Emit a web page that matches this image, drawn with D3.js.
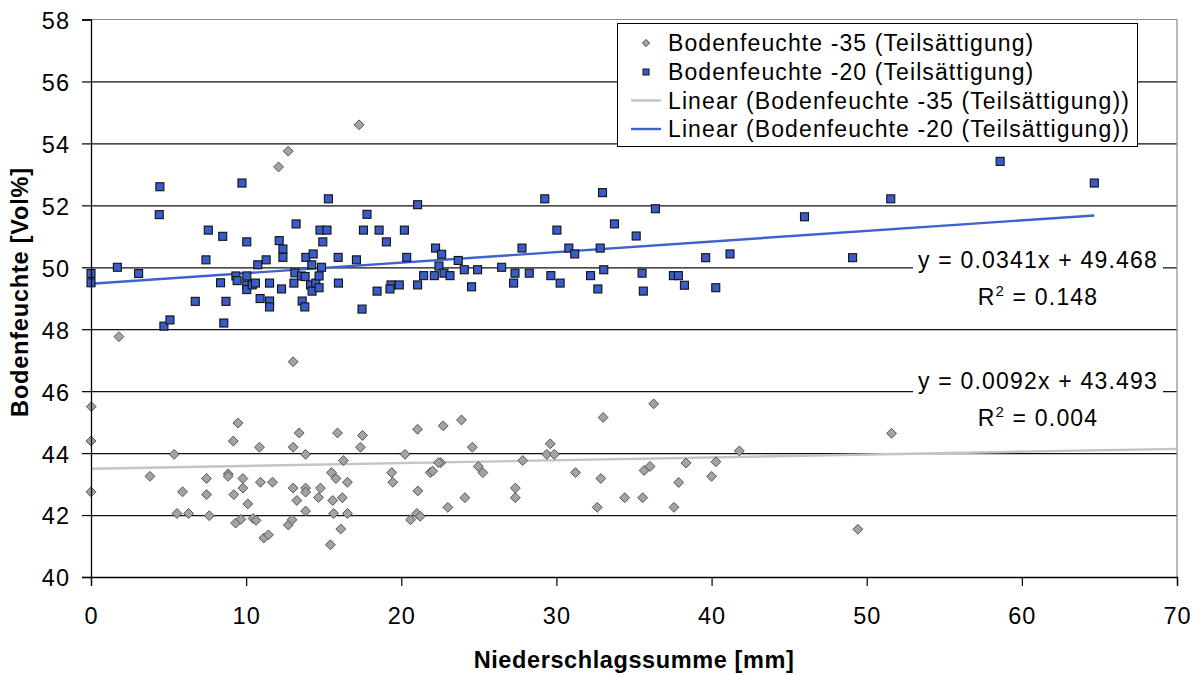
<!DOCTYPE html>
<html>
<head>
<meta charset="utf-8">
<script src="https://cdn.jsdelivr.net/npm/d3@7/dist/d3.min.js"></script>
<style>
  html, body { margin: 0; padding: 0; background: #fff; }
  svg { display: block; font-family: "Liberation Sans", Arial, sans-serif; }
</style>
</head>
<body>
<svg id="chart" width="1199" height="675"></svg>
<script>
// ---------- DATA ----------
const xTicks = [0, 10, 20, 30, 40, 50, 60, 70];
const yTicks = [40, 42, 44, 46, 48, 50, 52, 54, 56, 58];

const seriesNames = [
  "Bodenfeuchte -35 (Teilsättigung)",
  "Bodenfeuchte -20 (Teilsättigung)",
  "Linear (Bodenfeuchte -35 (Teilsättigung))",
  "Linear (Bodenfeuchte -20 (Teilsättigung))"
];

// Bodenfeuchte -20 (squares)
const s20x = [0, 0, 1.7, 3.07, 4.44, 4.4, 4.7, 5.09, 6.72, 7.41, 7.56, 8.35, 8.56, 8.49, 8.7, 9.73, 10.04, 9.34, 9.42, 10.04,
  10.04, 10.04, 10.39, 10.6, 10.75, 10.9, 11.29, 11.51, 11.51, 11.51, 12.13, 12.37, 12.37, 12.28, 13.08, 13.14, 13.22, 13.57, 13.8, 13.61,
  13.78, 13.85, 14.32, 14.23, 14.15, 14.25, 14.49, 14.7, 14.7, 14.86, 14.94, 14.76, 15.21, 15.3, 15.93, 15.95, 17.11, 17.47, 17.56, 17.79,
  18.44, 18.57, 19.04, 19.34, 19.27, 19.87, 20.2, 20.35, 21.05, 21.05, 21.44, 22.13, 22.21, 22.6, 22.43, 22.75, 23.14, 23.67, 24.06, 24.53,
  24.92, 26.47, 27.24, 27.33, 27.78, 28.25, 29.25, 29.64, 30.03, 30.24, 30.8, 31.18, 32.2, 32.97, 36.38, 33.74, 35.14, 32.82, 32.67, 33.05,
  35.52, 35.6, 37.54, 37.86, 38.25, 39.62, 40.27, 41.19, 45.99, 49.09, 51.55, 58.6, 64.67];
const s20y = [49.8, 49.5, 50.0, 49.8, 52.6, 51.7, 48.1, 48.3, 48.9, 50.24, 51.2, 49.5, 48.2, 51.0, 48.9, 52.72, 50.82, 49.72, 49.57, 49.72,
  49.43, 49.28, 49.43, 49.49, 50.08, 48.99, 50.24, 49.49, 48.91, 48.72, 50.86, 50.59, 50.32, 49.3, 49.49, 49.82, 51.4, 49.72, 49.7, 48.91,
  48.72, 50.32, 50.43, 50.08, 49.43, 49.23, 49.49, 49.72, 49.34, 50.0, 50.82, 51.2, 51.2, 52.21, 50.32, 49.49, 50.24, 48.65, 51.2, 51.71,
  49.23, 51.2, 50.82, 49.43, 49.3, 49.43, 51.2, 50.32, 52.02, 49.43, 49.73, 49.73, 50.62, 50.42, 50.04, 49.81, 49.73, 50.22, 49.92, 49.37,
  49.92, 50.0, 49.49, 49.81, 50.62, 49.81, 52.21, 49.73, 51.2, 49.49, 50.62, 50.43, 49.73, 52.41, 51.89, 51.4, 51.01, 50.62, 49.3, 49.92,
  49.81, 49.23, 49.73, 49.73, 49.42, 50.31, 49.34, 50.43, 51.63, 50.31, 52.21, 53.42, 52.72];

// Bodenfeuchte -35 (diamonds)
const s35x = [0.02, 0, 0, 1.8, 3.8, 5.36, 5.9, 5.54, 6.29, 7.45, 7.45, 7.62, 8.84, 8.84, 9.17, 9.47, 9.21, 9.79, 9.79, 10.11,
  9.32, 9.66, 10.45, 10.64, 10.92, 10.86, 11.7, 11.14, 11.44, 12.72, 12.96, 13.03, 13.42, 13.83, 13.03, 13.27, 13.83, 13.83, 13.83, 14.66,
  14.79, 15.5, 15.79, 15.58, 15.64, 15.43, 15.89, 16.1, 17.5, 17.37, 16.27, 16.53, 16.2, 16.53, 19.38, 19.45, 20.24, 21.05, 21.07, 20.6,
  21.0, 21.22, 21.87, 22.02, 22.54, 22.4, 22.7, 23.0, 23.88, 24.1, 24.58, 24.96, 25.26, 27.35, 27.35, 27.83, 29.38, 29.6, 29.86, 31.23,
  33.01, 36.27, 51.6, 41.79, 32.86, 35.65, 36.03, 38.35, 40.28, 37.88, 40.0, 34.4, 35.56, 32.63, 37.58, 49.43, 12.71, 12.09, 17.28, 13.03];
const s35y = [45.5, 44.39, 42.75, 47.76, 43.25, 43.96, 42.75, 42.05, 42.05, 43.18, 42.66, 41.98, 43.33, 43.25, 44.39, 44.97, 42.66, 43.18, 42.87, 42.36,
  41.74, 41.86, 41.89, 41.83, 43.06, 44.19, 43.06, 41.26, 41.36, 41.68, 41.85, 44.19, 44.65, 43.96, 42.87, 42.47, 42.87, 42.74, 42.13, 42.57,
  42.87, 43.37, 43.18, 42.47, 42.05, 41.04, 44.65, 41.55, 44.57, 44.19, 43.76, 43.06, 42.56, 42.05, 43.37, 43.06, 43.96, 44.77, 42.78, 41.85,
  42.05, 41.96, 43.37, 43.42, 43.69, 43.69, 44.88, 42.25, 45.07, 42.56, 44.19, 43.57, 43.37, 42.87, 42.56, 43.76, 43.96, 44.3, 43.96, 43.37,
  45.15, 45.59, 44.64, 44.07, 43.18, 43.44, 43.57, 43.68, 43.72, 43.05, 43.25, 42.56, 42.56, 42.25, 42.25, 41.54, 53.75, 53.24, 54.6, 46.95];

// Trendlines (as printed on the chart)
const trend35 = { slope: 0.0092, intercept: 43.493, r2: "0.004", xFrom: 0, xTo: 70 };
const trend20 = { slope: 0.0341, intercept: 49.468, r2: "0.148", xFrom: 0, xTo: 64.67 };

const xTitle = "Niederschlagssumme [mm]";
const yTitle = "Bodenfeuchte [Vol%]";

// ---------- LAYOUT ----------
const plot = { left: 91, right: 1177, top: 19.5, bottom: 577 };
const FONT = 23;

const svg = d3.select("#chart");
const x = d3.scaleLinear().domain([0, 70]).range([plot.left, plot.right]);
const y = d3.scaleLinear().domain([40, 58]).range([plot.bottom, plot.top]);

// gridlines
const grid = svg.append("g").attr("transform", `translate(${plot.left},0)`)
  .call(d3.axisLeft(y).tickValues(yTicks.filter(v => v > 40 && v < 58)).tickSize(-(plot.right - plot.left)).tickFormat(""));
grid.select(".domain").remove();
grid.selectAll("line").attr("stroke", "#111").attr("stroke-width", 1.2);

// plot border (top/right grey)
svg.append("line").attr("x1", plot.left).attr("x2", plot.right).attr("y1", y(58)).attr("y2", y(58))
  .attr("stroke", "#8c8c8c").attr("stroke-width", 1.2);
svg.append("line").attr("x1", plot.right).attr("x2", plot.right).attr("y1", y(58)).attr("y2", y(40))
  .attr("stroke", "#8c8c8c").attr("stroke-width", 1.2);

// trendlines
function trendLine(t, color) {
  svg.append("line")
    .attr("x1", x(t.xFrom)).attr("y1", y(t.slope * t.xFrom + t.intercept))
    .attr("x2", x(t.xTo)).attr("y2", y(t.slope * t.xTo + t.intercept))
    .attr("stroke", color).attr("stroke-width", 2.4);
}
trendLine(trend35, "#c4c4c4");
trendLine(trend20, "#3f62cf");

// equation labels (with white background)
function eqLabel(t, cy) {
  const g = svg.append("g");
  g.append("rect").attr("x", 913).attr("y", cy - 22).attr("width", 250).attr("height", 64).attr("fill", "#fff");
  const sign = t.intercept >= 0 ? "+" : "-";
  g.append("text").attr("x", 1038).attr("y", cy).attr("text-anchor", "middle")
    .attr("font-size", FONT).attr("letter-spacing", 1.2)
    .text(`y = ${t.slope}x ${sign} ${t.intercept}`);
  const r = g.append("text").attr("x", 1038).attr("y", cy + 37).attr("text-anchor", "middle")
    .attr("font-size", FONT).attr("letter-spacing", 1.2);
  r.append("tspan").text("R");
  r.append("tspan").attr("font-size", 15).attr("dy", -9).text("2");
  r.append("tspan").attr("dy", 9).text(` = ${t.r2}`);
}
eqLabel(trend20, 268);
eqLabel(trend35, 389);

// markers
const diamond = d3.symbol().type(d3.symbolDiamond2).size(62);
svg.append("g").selectAll("path").data(d3.range(s35x.length)).join("path")
  .attr("d", diamond)
  .attr("transform", i => `translate(${x(s35x[i])},${y(s35y[i])})`)
  .attr("fill", "#a3a3a3").attr("stroke", "#555").attr("stroke-width", 1);

svg.append("g").selectAll("rect").data(d3.range(s20x.length)).join("rect")
  .attr("x", i => x(s20x[i]) - 4).attr("y", i => y(s20y[i]) - 4)
  .attr("width", 8).attr("height", 8)
  .attr("fill", "#3a5cc8").attr("stroke", "#111").attr("stroke-width", 1.1);

// axes
const yAxis = svg.append("g").attr("transform", `translate(${plot.left},0)`)
  .call(d3.axisLeft(y).tickValues(yTicks).tickSize(9).tickPadding(12).tickFormat(d3.format("d")));
yAxis.select(".domain").attr("stroke", "#000").attr("stroke-width", 1.3);
yAxis.selectAll(".tick line").attr("stroke", "#000").attr("stroke-width", 1.2);
yAxis.selectAll("text").attr("font-size", 23.5).attr("font-family", "Liberation Sans, Arial, sans-serif")
  .attr("fill", "#000").attr("letter-spacing", 1).attr("dy", "0.38em");

const xAxis = svg.append("g").attr("transform", `translate(0,${plot.bottom})`)
  .call(d3.axisBottom(x).tickValues(xTicks).tickSize(9).tickPadding(21).tickFormat(d3.format("d")));
xAxis.select(".domain").attr("stroke", "#000").attr("stroke-width", 1.3);
xAxis.selectAll(".tick line").attr("stroke", "#000").attr("stroke-width", 1.2);
xAxis.selectAll("text").attr("font-size", 23.5).attr("font-family", "Liberation Sans, Arial, sans-serif")
  .attr("fill", "#000").attr("letter-spacing", 1);

// axis titles
svg.append("text").attr("x", (plot.left + plot.right) / 2).attr("y", 668).attr("text-anchor", "middle")
  .attr("font-size", 23.5).attr("font-weight", "bold").attr("letter-spacing", 0.6).text(xTitle);
svg.append("text").attr("transform", `translate(28,292) rotate(-90)`).attr("text-anchor", "middle")
  .attr("font-size", 23.5).attr("font-weight", "bold").attr("letter-spacing", 0.8).text(yTitle);

// legend
const leg = svg.append("g");
leg.append("rect").attr("x", 617.5).attr("y", 23.5).attr("width", 520).attr("height", 123)
  .attr("fill", "#fff").attr("stroke", "#000").attr("stroke-width", 1);
const rowY = [43, 72, 100.5, 129];
seriesNames.forEach((name, i) => {
  const cy = rowY[i];
  if (i === 0) {
    leg.append("path").attr("d", d3.symbol().type(d3.symbolDiamond2).size(34)())
      .attr("transform", `translate(646,${cy})`).attr("fill", "#a3a3a3").attr("stroke", "#555");
  } else if (i === 1) {
    leg.append("rect").attr("x", 643).attr("y", cy - 3).attr("width", 6).attr("height", 6)
      .attr("fill", "#3a5cc8").attr("stroke", "#111");
  } else {
    leg.append("line").attr("x1", 631).attr("x2", 661).attr("y1", cy).attr("y2", cy)
      .attr("stroke", i === 2 ? "#c4c4c4" : "#3f62cf").attr("stroke-width", 2.4);
  }
  leg.append("text").attr("x", 668).attr("y", cy + 8).attr("font-size", FONT).attr("letter-spacing", 1.1).text(name);
});
</script>
</body>
</html>
